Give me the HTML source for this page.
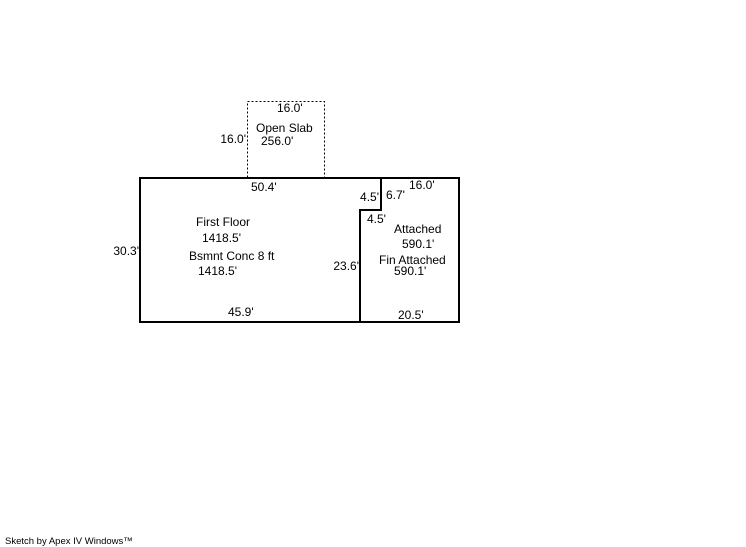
<!DOCTYPE html>
<html><head><meta charset="utf-8"><style>
html,body{margin:0;padding:0;background:#fff;width:746px;height:547px;overflow:hidden}
svg text{font-family:"Liberation Sans",Arial,sans-serif;font-size:12px;fill:#000}
</style></head><body>
<svg width="746" height="547" viewBox="0 0 746 547" xmlns="http://www.w3.org/2000/svg">
<rect x="247.5" y="101.5" width="77" height="77" fill="none" stroke="#000" stroke-width="1" stroke-dasharray="2,2"/>
<rect x="140" y="178" width="319" height="144" fill="none" stroke="#000" stroke-width="2"/>
<polyline points="381,178 381,210 360,210 360,322" fill="none" stroke="#000" stroke-width="2"/>
<text x="277" y="112">16.0'</text>
<text x="256" y="132">Open Slab</text>
<text x="261" y="145">256.0'</text>
<text x="246" y="143" text-anchor="end">16.0'</text>
<text x="251" y="191">50.4'</text>
<text x="379" y="201" text-anchor="end">4.5'</text>
<text x="386" y="199">6.7'</text>
<text x="409" y="189">16.0'</text>
<text x="367" y="223">4.5'</text>
<text x="196" y="226">First Floor</text>
<text x="202" y="242">1418.5'</text>
<text x="189" y="260">Bsmnt Conc 8 ft</text>
<text x="198" y="275">1418.5'</text>
<text x="139" y="255" text-anchor="end">30.3'</text>
<text x="394" y="233">Attached</text>
<text x="402" y="248">590.1'</text>
<text x="379" y="264">Fin Attached</text>
<text x="394" y="275">590.1'</text>
<text x="359" y="270" text-anchor="end">23.6'</text>
<text x="228" y="316">45.9'</text>
<text x="398" y="319">20.5'</text>
<text x="5" y="544" style="font-size:9.5px">Sketch by Apex IV Windows™</text>
</svg>
</body></html>
